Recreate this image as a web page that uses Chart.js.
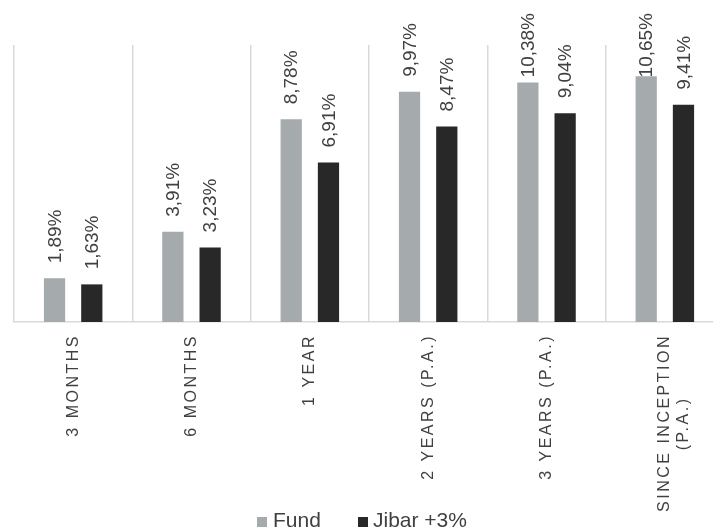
<!DOCTYPE html>
<html>
<head>
<meta charset="utf-8">
<script src="https://cdn.jsdelivr.net/npm/chart.js@4.4.1/dist/chart.umd.min.js"></script>
<style>
  html, body { margin: 0; padding: 0; background: #fff; overflow: hidden; }
  #wrap { position: relative; width: 713px; height: 528px; overflow: hidden; }
  #chart { position: absolute; left: 0; top: 0; }
  .txt { position: absolute; top: 509px; font: 21px/21px "Liberation Sans", Arial, sans-serif; color: #404040; white-space: nowrap; }
  .sw { position: absolute; top: 517px; width: 10px; height: 10px; }
</style>
</head>
<body>
<div id="wrap">
  <canvas id="chart" width="725" height="528"></canvas>
  <span class="sw" style="left:257px;background:#a5aaad"></span><span class="txt" style="left:273px">Fund</span>
  <span class="sw" style="left:358px;background:#282828"></span><span class="txt" style="left:373px">Jibar +3%</span>
</div>
<script>
document.addEventListener('DOMContentLoaded', () => {
  const categories = ['3 MONTHS', '6 MONTHS', '1 YEAR', '2 YEARS (P.A.)', '3 YEARS (P.A.)', ['SINCE INCEPTION', '(P.A.)\u00A0\u00A0\u00A0\u00A0\u00A0\u00A0\u00A0\u00A0\u00A0']];
  const fundValues = [1.89, 3.91, 8.78, 9.97, 10.38, 10.65];
  const jibarValues = [1.63, 3.23, 6.91, 8.47, 9.04, 9.41];
  const seriesNames = ['Fund', 'Jibar +3%'];
  const seriesColors = ['#a5aaad', '#282828'];

  const fmt = v => v.toFixed(2).replace('.', ',') + '%';

  // spaced-out tick text like the original axis labels
  const tickSpacing = {
    id: 'tickSpacing',
    beforeUpdate(chart) { chart.ctx.letterSpacing = '2.5px'; },
    beforeDraw(chart) { chart.ctx.letterSpacing = '2.5px'; },
    beforeDatasetsDraw(chart) { chart.ctx.letterSpacing = '0px'; }
  };

  const valueLabels = {
    id: 'valueLabels',
    afterDatasetsDraw(chart) {
      const ctx = chart.ctx;
      ctx.save();
      ctx.letterSpacing = '0px';
      ctx.font = '19px "Liberation Sans", Arial, sans-serif';
      ctx.fillStyle = '#404040';
      ctx.textAlign = 'left';
      ctx.textBaseline = 'middle';
      chart.data.datasets.forEach((ds, i) => {
        chart.getDatasetMeta(i).data.forEach((bar, j) => {
          const text = fmt(ds.data[j]);
          const w = ctx.measureText(text).width;
          let start = bar.y - 15;
          if (start - w < 13) start = 13 + w;
          ctx.save();
          ctx.translate(bar.x + 1, start);
          ctx.rotate(-Math.PI / 2);
          ctx.fillText(text, 0, 0);
          ctx.restore();
        });
      });
      ctx.restore();
    }
  };

  new Chart(document.getElementById('chart'), {
    type: 'bar',
    data: {
      labels: categories,
      datasets: [
        { label: seriesNames[0], data: fundValues, backgroundColor: seriesColors[0] },
        { label: seriesNames[1], data: jibarValues, backgroundColor: seriesColors[1] }
      ]
    },
    options: {
      responsive: false,
      animation: false,
      barPercentage: 0.57,
      categoryPercentage: 0.63,
      layout: { padding: { left: 14, right: 1, top: 45, bottom: 0 } },
      plugins: {
        legend: { display: false },
        tooltip: { enabled: false }
      },
      scales: {
        x: {
          grid: { offset: true, color: '#d9d9d9', lineWidth: 1.5, drawTicks: false },
          border: { color: '#d9d9d9', width: 1.5 },
          ticks: {
            autoSkip: false,
            maxRotation: 90,
            minRotation: 90,
            padding: 12,
            color: '#404040',
            font: { family: '"Liberation Sans", Arial, sans-serif', size: 16 }
          },
          afterFit(scale) { scale.height = 206; }
        },
        y: { display: false, min: 0, max: 12 }
      }
    },
    plugins: [tickSpacing, valueLabels]
  });
});
</script>
</body>
</html>
